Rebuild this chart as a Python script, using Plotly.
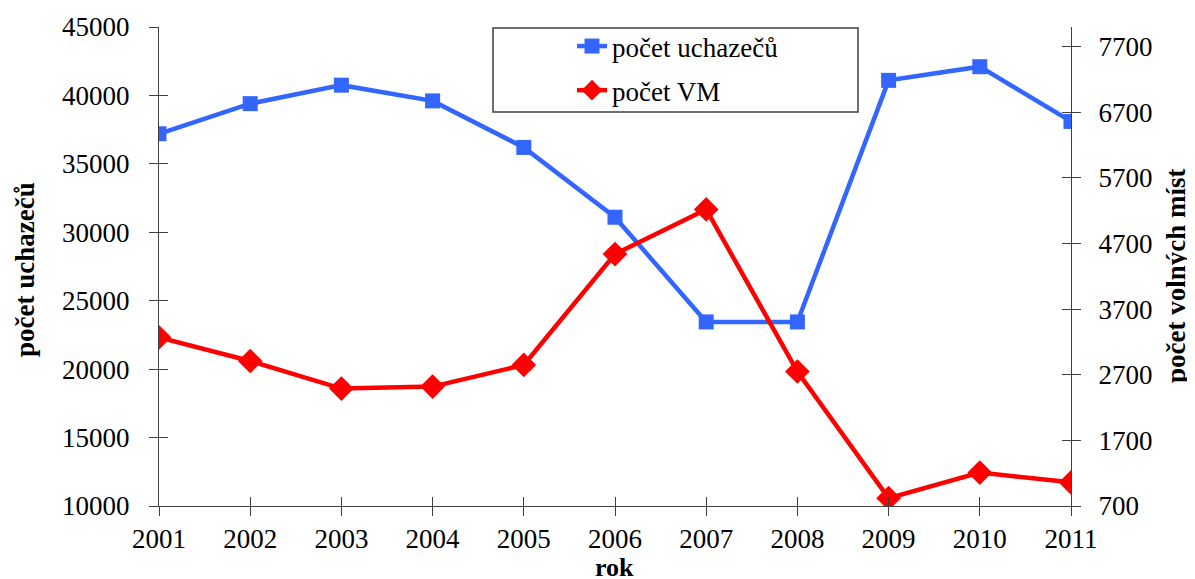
import plotly.graph_objects as go

years = [2001, 2002, 2003, 2004, 2005, 2006, 2007, 2008, 2009, 2010, 2011]
uchazeci = [37200, 39400, 40750, 39600, 36200, 31100, 23450, 23450, 41100, 42100, 38100]
volna_mista = [3270, 2910, 2490, 2520, 2850, 4540, 5220, 2750, 820, 1210, 1060]
left_ticks = [10000, 15000, 20000, 25000, 30000, 35000, 40000, 45000]
right_ticks = [700, 1700, 2700, 3700, 4700, 5700, 6700, 7700]

FONT = "Liberation Serif, Times New Roman, serif"
BLUE = "#3366FF"
RED = "#FF0000"
AX = "#404040"

fig = go.Figure()
fig.add_trace(go.Scatter(
    x=years, y=uchazeci, name="počet uchazečů", mode="lines+markers",
    line=dict(color=BLUE, width=4.5),
    marker=dict(symbol="square", size=15, color=BLUE),
    yaxis="y", legendgroup="a"))
fig.add_trace(go.Scatter(
    x=years, y=volna_mista, name="počet VM", mode="lines+markers",
    line=dict(color=RED, width=4.5),
    marker=dict(symbol="diamond", size=19, color=RED),
    yaxis="y2", legendgroup="b"))

# page body has an 8px margin: the figure starts at (8, 8)
OFF = 8
W, H = 1195 - OFF, 579 - OFF
L, R, T, B = 159 - OFF, 124, 27 - OFF, 73
pw, ph = W - L - R, H - T - B

def px(xp):
    return (xp - OFF - L) / pw

def py(yp):
    return (H - B - (yp - OFF)) / ph

fig.update_layout(
    width=W, height=H,
    margin=dict(l=L, r=R, t=T, b=B, autoexpand=False),
    paper_bgcolor="white", plot_bgcolor="white",
    font=dict(family=FONT, size=27, color="black"),
    showlegend=True,
    legend=dict(x=px(572), y=py(22), xanchor="left", yanchor="top",
                bgcolor="rgba(0,0,0,0)", borderwidth=0,
                font=dict(family=FONT, size=27, color="black"),
                tracegroupgap=6, traceorder="grouped"),
    xaxis=dict(range=[2001, 2011], tickvals=years, ticktext=[str(y) for y in years],
               showgrid=False, zeroline=False, showline=True, linecolor=AX, linewidth=1,
               ticks="outside", ticklen=9, tickcolor=AX, tickwidth=1,
               tickfont=dict(family=FONT, size=27), fixedrange=True, automargin=False),
    xaxis2=dict(range=[2001, 2011], tickvals=years, overlaying="x", anchor="y",
                showgrid=False, zeroline=False, showline=False, showticklabels=False,
                ticks="inside", ticklen=9, tickcolor=AX, tickwidth=1, automargin=False),
    yaxis=dict(range=[10000, 45000], tickvals=left_ticks,
               ticktext=[str(v) for v in left_ticks],
               showgrid=False, zeroline=False, showline=True, linecolor=AX, linewidth=1,
               ticks="outside", ticklen=9, tickcolor=AX, tickwidth=1, ticklabelstandoff=14,
               tickfont=dict(family=FONT, size=27), automargin=False),
    yaxis3=dict(range=[10000, 45000], tickvals=left_ticks, overlaying="y", anchor="x",
                side="left", showgrid=False, zeroline=False, showline=False,
                showticklabels=False, ticks="inside", ticklen=9, tickcolor=AX, tickwidth=1,
                automargin=False),
    yaxis2=dict(range=[700, 8000], tickvals=right_ticks,
                ticktext=[str(v) for v in right_ticks],
                overlaying="y", side="right", anchor="x",
                showgrid=False, zeroline=False, showline=True, linecolor=AX, linewidth=1,
                ticks="outside", ticklen=9, tickcolor=AX, tickwidth=1, ticklabelstandoff=12,
                tickfont=dict(family=FONT, size=27), automargin=False),
    yaxis4=dict(range=[700, 8000], tickvals=right_ticks, overlaying="y", side="right",
                anchor="x", showgrid=False, zeroline=False, showline=False,
                showticklabels=False, ticks="inside", ticklen=9, tickcolor=AX, tickwidth=1,
                automargin=False),
    shapes=[dict(type="rect", xref="paper", yref="paper",
                 x0=px(493), x1=px(858), y0=py(112), y1=py(28),
                 line=dict(color=AX, width=1.5), fillcolor="rgba(0,0,0,0)")],
    annotations=[
        dict(text="<b>počet uchazečů</b>", xref="paper", yref="paper",
             x=px(25), y=py(270), textangle=-90, showarrow=False,
             font=dict(family=FONT, size=27), xanchor="center", yanchor="middle"),
        dict(text="<b>počet volných míst</b>", xref="paper", yref="paper",
             x=px(1176), y=py(276), textangle=-90, showarrow=False,
             font=dict(family=FONT, size=27), xanchor="center", yanchor="middle"),
        dict(text="<b>rok</b>", xref="paper", yref="paper",
             x=px(614), y=py(567), showarrow=False,
             font=dict(family=FONT, size=26), xanchor="center", yanchor="middle"),
    ],
)

# invisible helper traces that activate the overlay tick axes (crossing ticks)
fig.add_trace(go.Scatter(x=[2001], y=[10000], xaxis="x2", yaxis="y3", mode="markers",
                         marker=dict(opacity=0), showlegend=False, hoverinfo="skip"))
fig.add_trace(go.Scatter(x=[2001], y=[700], xaxis="x", yaxis="y4", mode="markers",
                         marker=dict(opacity=0), showlegend=False, hoverinfo="skip"))

fig.write_html("out.html")
